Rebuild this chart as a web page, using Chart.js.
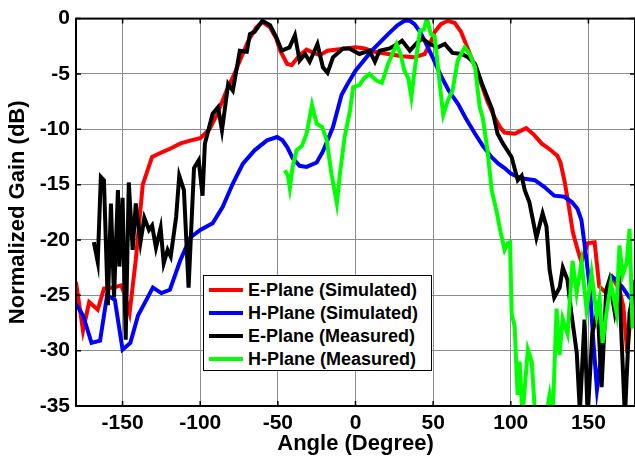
<!DOCTYPE html>
<html>
<head>
<meta charset="utf-8">
<script src="https://cdn.jsdelivr.net/npm/chart.js@4.4.1/dist/chart.umd.min.js"></script>
<style>
  body { margin: 0; background: #fff; }
  #wrap { position: relative; width: 635px; height: 457px; }
  #legend {
    position: absolute; left: 203px; top: 275px; width: 227px; height: 94px;
    border: 1px solid #000; background: #fff;
    font: bold 18px "Liberation Sans", Arial, sans-serif; color: #000;
  }
  #legend .item { position: absolute; left: 0; height: 23px; display: flex; align-items: center; white-space: nowrap; }
  #legend .swatch { width: 34px; height: 4px; margin-left: 5px; margin-right: 5px; }
</style>
</head>
<body>
<div id="wrap">
  <canvas id="gainChart" width="635" height="457"></canvas>
  <div id="legend"></div>
</div>
<script>
// axis ticks
const xTicks = [-150, -100, -50, 0, 50, 100, 150];

// E-Plane (Simulated)
const eSimAngle = [-180,-175.5,-171.5,-166,-162,-156,-151,-149,-145.5,-141.5,-137,-131,-125,-120,-113,-106,-100,-94,-89,-83,-78,-74.5,-69,-64,-60,-55,-51,-48.5,-44,-41,-36,-31.5,-27,-23,-18,-12,-6,0,6,12,21,30,38,44.5,48,51,55,59.5,64,68,72,76,81,85,89.5,93,96,102.5,107,110,115,120,125,130,132,134.5,137,140,142.5,145.5,149.5,154,157,161.5,165.5,170,172.5,175,177,180];
const eSimGain = [-23.8,-28.2,-25.6,-26.3,-24.4,-24.3,-24.1,-24.8,-26.6,-21.8,-15,-12.5,-12.1,-11.8,-11.3,-11,-10.8,-10,-8.6,-6.5,-5,-3.8,-2,-0.8,-0.3,-0.8,-1.8,-2.9,-4.1,-4.2,-3.3,-2.8,-3.1,-3.3,-2.9,-2.8,-2.7,-2.6,-2.7,-3,-3.2,-3.4,-3.5,-3.2,-2.3,-1.2,-0.5,-0.2,-0.4,-1.2,-2.6,-4,-5.9,-7.5,-8.9,-9.8,-10.3,-10.4,-10.1,-9.9,-10.5,-11.3,-11.8,-12.4,-13,-14.6,-16.6,-19.3,-20.6,-22,-20.3,-20.2,-24.2,-24.8,-23.4,-24.5,-26,-30.2,-27,-23.6];

// H-Plane (Simulated)
const hSimAngle = [-180,-175.5,-170,-164.5,-160,-155,-150,-145,-140,-135,-130.5,-125,-119.5,-113,-106.5,-100,-92,-85.5,-79,-72.5,-65,-57,-50.5,-47,-44,-40.5,-36,-31.5,-25,-21,-14.5,-9,-5.5,0,10.5,21,27,31.5,35,38,41.5,44.5,50,55.5,60,66,71,77,82,87.5,92,96,100,104.5,110,115.5,121.5,128,134.5,139.5,143,145.5,148.5,151,153,155.5,158.5,161.5,165,168,172,176.5,180];
const hSimGain = [-25.8,-26.8,-29.3,-29.1,-25,-25.4,-29.9,-29.3,-26.8,-25.5,-24.3,-24.8,-24.5,-21.9,-19.8,-19.1,-18.5,-17,-14.9,-13.1,-11.9,-11,-10.7,-11,-11.6,-12.6,-13.3,-13.4,-13,-12,-9.8,-6.9,-6,-4.7,-2.9,-1.4,-0.6,-0.2,-0.2,-0.5,-1.2,-2,-3.6,-5.3,-6.5,-7.7,-9,-10.4,-11.5,-12.5,-13.1,-13.5,-14,-14.3,-14.5,-14.6,-15.2,-16,-16.1,-16.6,-17.2,-18.2,-21.5,-24.5,-28.8,-33.5,-30.2,-26.1,-23.3,-23.6,-24.3,-25.2,-25.6];

// E-Plane (Measured)
const eMeasAngle = [-168.5,-166,-164,-162,-159.5,-157.5,-155.5,-153,-152,-150,-148,-146,-143.5,-141.5,-138.5,-136,-133,-131,-128.5,-125.5,-123.5,-121,-119,-115.5,-113.5,-110.5,-107.5,-104,-101,-98.5,-97,-92,-88.5,-86,-82,-79,-74.5,-70,-68,-65,-60,-55,-51,-47.5,-42.5,-39,-36,-32.5,-29.5,-24.5,-21,-18,-14.5,-8,-4,2.5,9,12.5,15.5,22,27,30,35,39.5,43,48,53,57.5,62.5,68.5,72.5,77,81.5,88,91.5,95,100.5,104.5,107,109,112,116.5,120.5,123,125,128,131.5,133.5,136.5,139,142.5,144.5,147.5,149.5,152.5,156,158.5,161.5,163.5,167,170,173.5,176.5,180];
const eMeasGain = [-20.2,-22,-14.3,-14.6,-25.9,-16.7,-25.2,-15.5,-22.4,-16.2,-29,-14.8,-20.9,-16.7,-20.2,-18,-19.1,-18.7,-20.7,-18.9,-22.1,-20.9,-21.5,-17.9,-14.2,-15.5,-24.3,-13.5,-12.8,-16,-11.3,-8.6,-8,-10.1,-5.9,-6.5,-2.9,-3,-1.4,-1.2,-0.2,-0.6,-1.7,-2.9,-2.6,-1.5,-3.8,-3.2,-3.9,-2.3,-4.4,-4.9,-3.5,-2.7,-2.7,-3.2,-2.9,-3.9,-2.9,-2.7,-2.3,-2,-2.9,-2.2,-1.8,-2.3,-2.6,-2.3,-3.1,-3.2,-3.5,-4.1,-5.9,-8.2,-10.4,-11.3,-12.5,-14.6,-14.2,-15.5,-16.6,-19.8,-17.6,-18.8,-22.7,-25.2,-24.3,-22.5,-23.6,-26.6,-30.2,-35.5,-27.2,-36,-28.4,-26.3,-33.3,-24.5,-23.6,-26.6,-24.5,-36,-26.6,-23.9];

// H-Plane (Measured)
const hMeasAngle = [-45.5,-43.5,-42.3,-40.5,-38,-34.5,-31.5,-28,-25,-21.5,-18.5,-15.5,-12,-10,-7,-3.5,-1.5,2.5,5.5,9,13.5,17,21,26.5,29,31.5,34,36,38,41.5,44,46,48.5,51,54,56.5,59.5,62.5,65.8,70.3,73.5,77,80,82,85,87.7,91,93,96,98,99.5,100.6,102.5,104.4,105.7,107.5,111,113.5,116,120,125,127,129.5,131.4,133.4,136.6,139.8,142.4,145.6,148.8,152,155.3,157.2,159.1,161.7,164.5,166.5,168,170,172,174.6,176.5,178.4,180];
const hMeasGain = [-13.7,-14.2,-15.3,-13.4,-11.9,-11.5,-10.4,-7.8,-9.5,-9.8,-11,-14,-16.7,-14,-10.7,-8.3,-6.2,-6,-5.4,-5,-5.6,-5.8,-4.1,-2.3,-3.2,-4.7,-5.4,-7.1,-4.7,-1.1,-1,0,-1.4,-1.6,-5.6,-8.7,-7.4,-6.5,-3.8,-2.6,-3.2,-4.4,-8,-9,-11.9,-15.5,-17.5,-19,-20.9,-20.3,-20.2,-26.7,-27.8,-34,-31,-36,-29.9,-31,-36.5,-38,-34,-36,-26.2,-30.4,-27.1,-28.5,-21.9,-24.8,-22,-26.3,-23,-26.8,-25.3,-29.3,-26.5,-23.9,-25.4,-26.5,-20.5,-23.2,-22.1,-19,-28,-26.1];

const fontFamily = "'Liberation Sans', Arial, sans-serif";

function pts(angles, gains) {
  return angles.map((a, i) => ({ x: a, y: gains[i] }));
}

// MATLAB style box with inward tick marks
const boxPlugin = {
  id: 'matlabBox',
  afterDatasetsDraw(chart) {
    const { ctx, chartArea: a, scales } = chart;
    ctx.save();
    ctx.strokeStyle = '#000';
    ctx.lineWidth = 1.5;
    ctx.beginPath();
    scales.x.ticks.forEach(t => {
      const px = scales.x.getPixelForValue(t.value);
      ctx.moveTo(px, a.bottom); ctx.lineTo(px, a.bottom - 5);
      ctx.moveTo(px, a.top); ctx.lineTo(px, a.top + 5);
    });
    scales.y.ticks.forEach(t => {
      const py = scales.y.getPixelForValue(t.value);
      ctx.moveTo(a.left, py); ctx.lineTo(a.left + 5, py);
      ctx.moveTo(a.right, py); ctx.lineTo(a.right - 5, py);
    });
    ctx.stroke();
    ctx.lineWidth = 2;
    ctx.strokeRect(a.left, a.top, a.right - a.left, a.bottom - a.top);
    ctx.restore();
  }
};

const ctx = document.getElementById('gainChart').getContext('2d');
const chart = new Chart(ctx, {
  type: 'line',
  data: {
    datasets: [
      { label: 'E-Plane (Simulated)', data: pts(eSimAngle, eSimGain), borderColor: '#ff0000', order: 4 },
      { label: 'H-Plane (Simulated)', data: pts(hSimAngle, hSimGain), borderColor: '#0000ff', order: 3 },
      { label: 'E-Plane (Measured)', data: pts(eMeasAngle, eMeasGain), borderColor: '#000000', order: 2 },
      { label: 'H-Plane (Measured)', data: pts(hMeasAngle, hMeasGain), borderColor: '#00ff00', order: 1 }
    ]
  },
  options: {
    responsive: false,
    animation: false,
    devicePixelRatio: 1,
    layout: { padding: { left: 0, right: 0, top: 18, bottom: 0 } },
    elements: {
      line: { borderWidth: 4, tension: 0, fill: false },
      point: { radius: 0 }
    },
    plugins: { legend: { display: false }, tooltip: { enabled: false } },
    scales: {
      x: {
        type: 'linear',
        min: -180,
        max: 180,
        afterBuildTicks: s => { s.ticks = xTicks.map(v => ({ value: v })); },
        afterFit: s => { s.height = 51; },
        grid: { color: '#8c8c8c', lineWidth: 1, drawTicks: false },
        border: { display: false },
        ticks: { color: '#000', padding: 5, maxRotation: 0, font: { family: fontFamily, size: 21, weight: 'bold' } },
        title: { display: true, text: 'Angle (Degree)', color: '#000', padding: { top: 0, bottom: 0 }, font: { family: fontFamily, size: 22, weight: 'bold' } }
      },
      y: {
        min: -35,
        max: 0,
        afterFit: s => { s.width = 76; },
        grid: { color: '#8c8c8c', lineWidth: 1, drawTicks: false },
        border: { display: false },
        ticks: { stepSize: 5, color: '#000', padding: 6, font: { family: fontFamily, size: 21, weight: 'bold' } },
        title: { display: true, text: 'Normalized Gain (dB)', color: '#000', padding: { top: 5, bottom: 0 }, font: { family: fontFamily, size: 22, weight: 'bold' } }
      }
    }
  },
  plugins: [boxPlugin]
});

// legend built from the datasets, placed inside the plot like the original
const legendEl = document.getElementById('legend');
chart.data.datasets.forEach((ds, i) => {
  const item = document.createElement('div');
  item.className = 'item';
  item.style.top = (2.5 + i * 23) + 'px';
  const sw = document.createElement('span');
  sw.className = 'swatch';
  sw.style.background = ds.borderColor;
  const txt = document.createElement('span');
  txt.textContent = ds.label;
  item.appendChild(sw);
  item.appendChild(txt);
  legendEl.appendChild(item);
});
</script>
</body>
</html>
